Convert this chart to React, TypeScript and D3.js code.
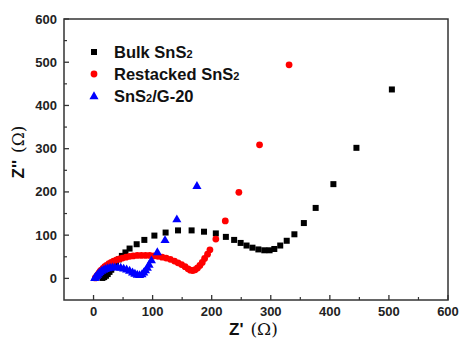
import React, { useEffect } from 'react';
import * as d3 from 'd3';

// Nyquist data: [Z', Z'']
const bulkSnS2: [number, number][] = [
  [15, 1], [18, 3], [21, 6], [24, 10], [27, 15], [30, 20], [34, 27], [38, 35],
  [43, 44], [48, 52], [54, 60], [61, 69], [73, 79], [86, 89], [103, 99], [122, 106],
  [143, 111], [166, 111], [187, 108], [207, 104], [224, 96], [238, 89], [249, 82],
  [259, 76], [269, 71], [279, 67], [289, 65], [298, 65], [306, 68], [316, 76],
  [327, 87], [340, 102], [356, 128], [376, 163], [406, 218], [445, 302], [505, 437],
];

const restackedSnS2: [number, number][] = [
  [3, 1], [5, 4], [7, 8], [9, 12], [11, 16], [13, 19], [16, 23], [19, 27], [22, 30],
  [26, 34], [30, 37], [34, 40], [39, 43], [44, 45], [49, 47], [55, 49], [61, 51],
  [67, 52], [74, 53], [81, 53], [88, 53], [95, 53], [102, 52], [109, 51], [116, 49],
  [123, 47], [130, 44], [137, 40], [143, 36], [149, 32], [155, 27], [160, 22],
  [164, 19], [168, 18], [172, 20], [176, 24], [180, 30], [184, 37], [188, 46],
  [193, 56], [197, 66], [207, 91], [223, 133], [246, 199], [281, 309], [331, 494],
];

const snsG20: [number, number][] = [
  [2, 1], [3, 3], [5, 6], [7, 9], [9, 12], [11, 15], [14, 18], [17, 20], [20, 22],
  [24, 24], [28, 25], [32, 26], [36, 26], [41, 26], [46, 25], [51, 23], [56, 21],
  [61, 18], [66, 14], [70, 11], [74, 9], [78, 8], [82, 10], [85, 14], [88, 19],
  [91, 25], [94, 32], [98, 42], [108, 61], [121, 89], [141, 137], [175, 214],
];

const xTicks = [0, 100, 200, 300, 400, 500, 600];
const yTicks = [0, 100, 200, 300, 400, 500, 600];
const minorTicks = [50, 150, 250, 350, 450, 550];

const left = 64, right = 448, top = 19, bottom = 300;

const App = () => {
  useEffect(() => {
    document.body.style.margin = '0';
  }, []);

  const x = d3.scaleLinear().domain([-50, 600]).range([left, right]);
  const y = d3.scaleLinear().domain([-50, 600]).range([bottom, top]);
  const tri = d3.symbol().type(d3.symbolTriangle).size(36)();
  const font = 'Arial, "Liberation Sans", sans-serif';
  const serif = '"DejaVu Serif", "Liberation Serif", serif';

  const legend = [
    { label: 'Bulk SnS', tail: '', color: '#000', kind: 'sq' },
    { label: 'Restacked SnS', tail: '', color: '#ff0000', kind: 'ci' },
    { label: 'SnS', tail: '/G-20', color: '#0000ff', kind: 'tr' },
  ];

  return (
    <svg width={459} height={343} style={{ display: 'block', background: '#fff' }}>
      {/* frame */}
      <rect x={left} y={top} width={right - left} height={bottom - top}
        fill="none" stroke="#333" strokeWidth={1.5} />

      {/* x ticks */}
      {xTicks.map(t => (
        <g key={'x' + t}>
          <line x1={x(t)} x2={x(t)} y1={bottom} y2={bottom - 5} stroke="#333" strokeWidth={1.3} />
          <text x={x(t)} y={316} textAnchor="middle" fontFamily={font} fontWeight="bold"
            fontSize={13} fill="#222">{t}</text>
        </g>
      ))}
      {minorTicks.map(t => (
        <line key={'xm' + t} x1={x(t)} x2={x(t)} y1={bottom} y2={bottom - 3} stroke="#333" strokeWidth={1.2} />
      ))}

      {/* y ticks */}
      {yTicks.map(t => (
        <g key={'y' + t}>
          <line x1={left} x2={left + 5} y1={y(t)} y2={y(t)} stroke="#333" strokeWidth={1.3} />
          <text x={57} y={y(t) + 4.5} textAnchor="end" fontFamily={font} fontWeight="bold"
            fontSize={13} fill="#222">{t}</text>
        </g>
      ))}
      {minorTicks.map(t => (
        <line key={'ym' + t} x1={left} x2={left + 3} y1={y(t)} y2={y(t)} stroke="#333" strokeWidth={1.2} />
      ))}

      {/* axis titles */}
      <text x={229} y={335} fontFamily={font} fontWeight="bold" fontSize={17} fill="#111">
        Z'<tspan fontWeight="normal" fontFamily={serif} fontSize={17} dx={7}>(Ω)</tspan>
      </text>
      <text transform="translate(24,152) rotate(-90)" textAnchor="middle" fontFamily={font}
        fontWeight="bold" fontSize={17} fill="#111">
        Z''<tspan fontWeight="normal" fontFamily={serif} fontSize={17} dx={7}>(Ω)</tspan>
      </text>

      {/* data */}
      {bulkSnS2.map((d, i) => (
        <rect key={'b' + i} x={x(d[0]) - 3} y={y(d[1]) - 3} width={6} height={6} fill="#000" />
      ))}
      {restackedSnS2.map((d, i) => (
        <circle key={'r' + i} cx={x(d[0])} cy={y(d[1])} r={3.4} fill="#ff0000" />
      ))}
      {snsG20.map((d, i) => (
        <path key={'g' + i} d={tri} transform={`translate(${x(d[0])},${y(d[1]) + 0.5})`} fill="#0000ff" />
      ))}

      {/* legend */}
      {legend.map((l, i) => {
        const cy = 52 + i * 22;
        return (
          <g key={l.label}>
            {l.kind === 'sq' && <rect x={91} y={cy - 3} width={6} height={6} fill={l.color} />}
            {l.kind === 'ci' && <circle cx={94} cy={cy} r={3.4} fill={l.color} />}
            {l.kind === 'tr' && <path d={tri} transform={`translate(94,${cy + 0.5})`} fill={l.color} />}
            <text x={114} y={cy + 6} fontFamily={font} fontWeight="bold" fontSize={16.5} fill="#111">
              {l.label}
              <tspan fontSize={11}>2</tspan>
              {l.tail}
            </text>
          </g>
        );
      })}
    </svg>
  );
};

export default App;
